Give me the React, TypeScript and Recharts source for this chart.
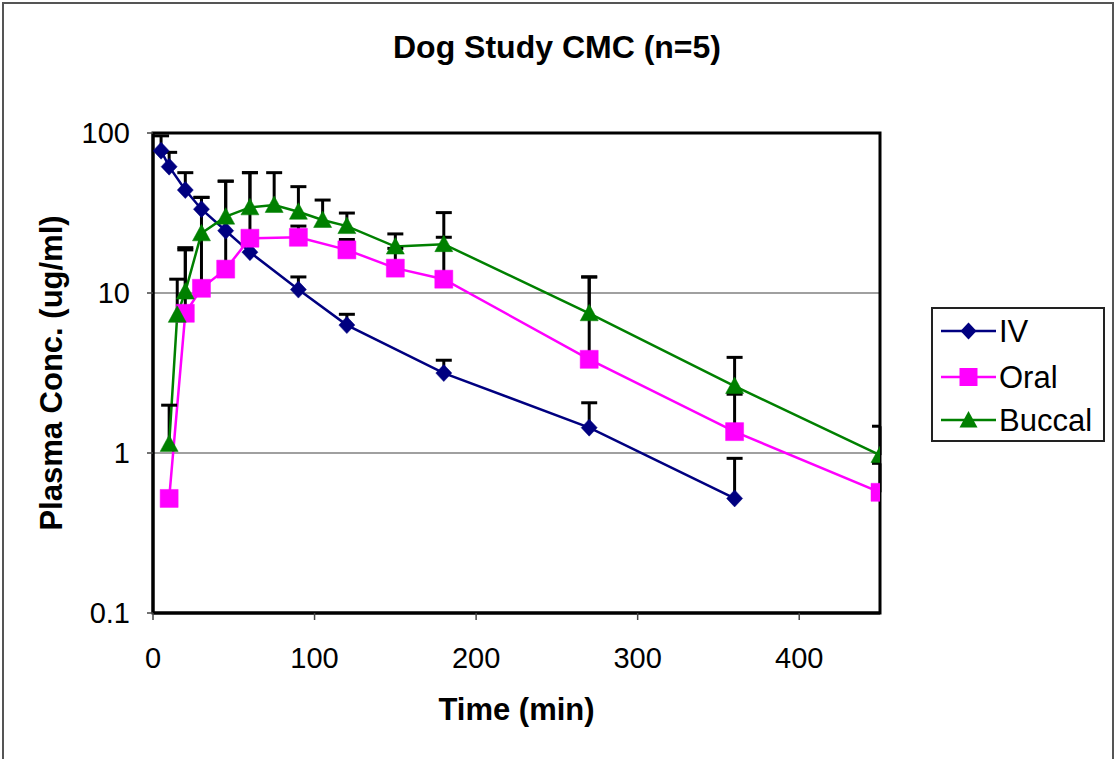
import React from 'react';
import {
  ComposedChart,
  Line,
  Scatter,
  XAxis,
  YAxis,
  CartesianGrid,
  ErrorBar,
  ReferenceArea,
  Legend,
  Label,
} from 'recharts';

// ---------- data ----------
const xTicks = [0, 100, 200, 300, 400];
const yTicks = [0.1, 1, 10, 100];

const ivTime = [5, 10, 20, 30, 45, 60, 90, 120, 180, 270, 360];
const ivConc = [77.5, 61.6, 44, 33.4, 24.5, 18, 10.5, 6.3, 3.16, 1.44, 0.52];
const ivUpper = [96, 75.7, 56.5, 39.6, null, null, 12.6, 7.36, 3.8, 2.06, 0.926];

const oralTime = [10, 20, 30, 45, 60, 90, 120, 150, 180, 270, 360, 450];
const oralConc = [0.52, 7.47, 10.7, 14.1, 22.0, 22.3, 18.6, 14.3, 12.2, 3.85, 1.36, 0.568];
const oralUpper = [null, 18.6, 39.6, 50, 56.5, 26.2, 21.6, 19.0, 22.3, 12.6, 2.33, 0.862];

const buccalTime = [10, 15, 20, 30, 45, 60, 75, 90, 105, 120, 150, 180, 270, 360, 450];
const buccalConc = [1.14, 7.3, 10.2, 23.6, 30, 34.3, 35.5, 32.2, 28.6, 26.2, 19.5, 20.2, 7.47, 2.62, 0.97];
const buccalUpper = [1.99, 12.2, 19.2, null, 50, 56.5, 56.5, 46.2, 38.1, 31.6, 23.4, 31.8, 12.6, 3.96, 1.47];

const seriesNames = ['IV', 'Oral', 'Buccal'];
const seriesColors = ['#000080', '#FF00FF', '#008000'];

// ---------- helpers ----------
type Pt = { t: number; v: number; err: number[] };
function buildSeries(times: number[], conc: number[], upper: (number | null)[]): Pt[] {
  return times.map((t, i) => ({
    t,
    v: conc[i],
    err: [0, upper[i] == null ? 0 : (upper[i] as number) - conc[i]],
  }));
}
function buildCaps(times: number[], upper: (number | null)[]) {
  return times
    .map((t, i) => ({ t, v: upper[i] }))
    .filter((d) => d.v != null) as { t: number; v: number }[];
}

const ivData = buildSeries(ivTime, ivConc, ivUpper);
const oralData = buildSeries(oralTime, oralConc, oralUpper);
const buccalData = buildSeries(buccalTime, buccalConc, buccalUpper);
const ivCaps = buildCaps(ivTime, ivUpper);
const oralCaps = buildCaps(oralTime, oralUpper);
const buccalCaps = buildCaps(buccalTime, buccalUpper);

const FONT = '"Liberation Sans", Arial, Helvetica, sans-serif';

function diamondPath(cx: number, cy: number) {
  return `M${cx},${cy - 8.5} L${cx + 8},${cy} L${cx},${cy + 8.5} L${cx - 8},${cy} Z`;
}
function squarePath(cx: number, cy: number) {
  return `M${cx - 9},${cy - 9} h18 v18 h-18 Z`;
}
function trianglePath(cx: number, cy: number) {
  return `M${cx},${cy - 9} L${cx + 9},${cy + 7.5} L${cx - 9},${cy + 7.5} Z`;
}
const shapes = [diamondPath, squarePath, trianglePath];

const makeDot = (idx: number) => (p: any) => {
  if (p.cx == null || p.cy == null || isNaN(p.cx) || isNaN(p.cy)) return <g key={`e${idx}-${p.index}`} />;
  return (
    <path
      key={`m${idx}-${p.index}`}
      d={shapes[idx](p.cx, p.cy)}
      fill={seriesColors[idx]}
      stroke={seriesColors[idx]}
      strokeWidth={0.5}
    />
  );
};

const capShape = (p: any) => {
  if (p.cx == null || p.cy == null) return <g />;
  return <line x1={p.cx - 8} x2={p.cx + 8} y1={p.cy} y2={p.cy} stroke="#000" strokeWidth={3} />;
};

const LegendBox = () => {
  const rows = [24, 70, 113];
  return (
    <svg width={174} height={135} style={{ display: 'block' }}>
      <rect x={1} y={1} width={172} height={133} fill="#fff" stroke="#222" strokeWidth={2} />
      {seriesNames.map((name, i) => (
        <g key={name}>
          <line x1={10} x2={65} y1={rows[i]} y2={rows[i]} stroke={seriesColors[i]} strokeWidth={2.5} />
          <path d={shapes[i](37.5, rows[i])} fill={seriesColors[i]} />
          <text x={68} y={rows[i] + 11} fontSize={31} fontFamily={FONT} fill="#000">
            {name}
          </text>
        </g>
      ))}
    </svg>
  );
};

const YLabel = (props: any) => {
  const vb = props.viewBox || { x: 0, y: 133, width: 153, height: 480 };
  const x = vb.x + 62;
  const y = vb.y + vb.height / 2;
  return (
    <text
      x={x}
      y={y}
      transform={`rotate(-90 ${x} ${y})`}
      textAnchor="middle"
      fontSize={31}
      fontWeight="bold"
      fontFamily={FONT}
      fill="#000"
    >
      Plasma Conc. (ug/ml)
    </text>
  );
};

export default function App() {
  return (
    <div
      style={{
        position: 'absolute',
        left: 0,
        top: 0,
        width: 1116,
        height: 759,
        overflow: 'hidden',
        background: '#fff',
        fontFamily: FONT,
      }}
    >
      <div
        style={{
          position: 'absolute',
          left: 2,
          top: 2,
          width: 1112,
          height: 820,
          border: '2px solid #555',
          boxSizing: 'border-box',
        }}
      />
      <svg width={1116} height={80} style={{ position: 'absolute', left: 0, top: 0 }}>
        <text x={557} y={58} textAnchor="middle" fontSize={32} fontWeight="bold" fontFamily={FONT} fill="#000">
          Dog Study CMC (n=5)
        </text>
      </svg>
      <div style={{ position: 'absolute', left: 0, top: 0 }}>
        <ComposedChart
          width={1116}
          height={759}
          margin={{ top: 133, right: 236, bottom: 0, left: 0 }}
        >
          <CartesianGrid horizontal vertical={false} stroke="#808080" strokeWidth={1.5} />
          <XAxis
            dataKey="t"
            type="number"
            domain={[0, 450]}
            ticks={xTicks}
            allowDataOverflow
            height={146}
            axisLine={{ stroke: '#000', strokeWidth: 3 }}
            tickLine={{ stroke: '#444', strokeWidth: 1.5 }}
            tickSize={7}
            tickMargin={27}
            tick={{ fontSize: 29, fontFamily: FONT, fill: '#000' }}
          >
            <Label
              value="Time (min)"
              position="insideBottom"
              offset={39}
              style={{ fontSize: 31, fontWeight: 'bold', fontFamily: FONT, fill: '#000' }}
            />
          </XAxis>
          <YAxis
            type="number"
            scale="log"
            domain={[0.1, 100]}
            ticks={yTicks}
            allowDataOverflow
            width={153}
            axisLine={{ stroke: '#000', strokeWidth: 3 }}
            tickLine={{ stroke: '#444', strokeWidth: 1.5 }}
            tickSize={6}
            tickMargin={17}
            tick={{ fontSize: 29, fontFamily: FONT, fill: '#000' }}
          >
            <Label content={<YLabel />} />
          </YAxis>
          <ReferenceArea
            x1={0}
            x2={450}
            y1={0.1}
            y2={100}
            fill="none"
            fillOpacity={0}
            stroke="#000"
            strokeWidth={3}
            ifOverflow="visible"
          />
          <Line
            data={ivData}
            dataKey="v"
            name="IV"
            stroke={seriesColors[0]}
            strokeWidth={2.5}
            dot={makeDot(0)}
            activeDot={false}
            isAnimationActive={false}
          >
            <ErrorBar dataKey="err" direction="y" width={0} stroke="#000" strokeWidth={3} />
          </Line>
          <Scatter data={ivCaps} dataKey="v" shape={capShape} isAnimationActive={false} legendType="none" />
          <Line
            data={oralData}
            dataKey="v"
            name="Oral"
            stroke={seriesColors[1]}
            strokeWidth={2.5}
            dot={makeDot(1)}
            activeDot={false}
            isAnimationActive={false}
          >
            <ErrorBar dataKey="err" direction="y" width={0} stroke="#000" strokeWidth={3} />
          </Line>
          <Scatter data={oralCaps} dataKey="v" shape={capShape} isAnimationActive={false} legendType="none" />
          <Line
            data={buccalData}
            dataKey="v"
            name="Buccal"
            stroke={seriesColors[2]}
            strokeWidth={2.5}
            dot={makeDot(2)}
            activeDot={false}
            isAnimationActive={false}
          >
            <ErrorBar dataKey="err" direction="y" width={0} stroke="#000" strokeWidth={3} />
          </Line>
          <Scatter data={buccalCaps} dataKey="v" shape={capShape} isAnimationActive={false} legendType="none" />
          <Legend
            layout="vertical"
            align="center"
            verticalAlign="middle"
            wrapperStyle={{ position: 'absolute', left: 931, top: 307, width: 174, height: 135 }}
            content={() => <LegendBox />}
          />
        </ComposedChart>
      </div>
    </div>
  );
}
